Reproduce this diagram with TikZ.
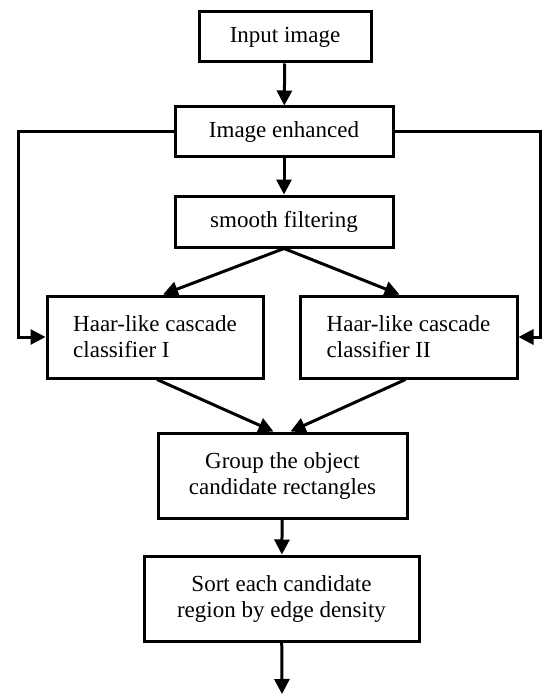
\documentclass[tikz,border=0pt]{standalone}
\usepackage{fontspec}
\setmainfont{Liberation Serif}
\usetikzlibrary{arrows.meta}

\begin{document}
\begin{tikzpicture}[x=1pt, y=-1pt,
		box/.style = {draw, line width=3pt, align=center, inner sep=0pt,
			font=\fontsize{23}{26}\selectfont},
		arr/.style = {line width=3pt, -{Triangle[length=15pt, width=15pt]}}]

		\useasboundingbox (0, 0) rectangle (542, 695);

		\node[box, minimum width=172, minimum height=50] (input) at (285, 37) {Input image};
		\node[box, minimum width=218, minimum height=50] (enh) at (284, 132) {Image enhanced};
		\node[box, minimum width=218, minimum height=51] (smooth) at (284, 221.5) {smooth filtering};
		\node[box, align=left, minimum width=216, minimum height=82] (haarI) at (155, 337) {Haar-like cascade\\classifier I};
		\node[box, align=left, minimum width=217, minimum height=82] (haarII) at (408.5, 337) {Haar-like cascade\\classifier II};
		\node[box, minimum width=249, minimum height=85] (group) at (282.5, 475.5) {Group the object\\candidate rectangles};
		\node[box, minimum width=275, minimum height=85] (sort) at (281.5, 598.5) {Sort each candidate\\region by edge density};
		\coordinate (out) at (282, 694);

		\draw[arr] (input) -- (enh);
		\draw[arr] (enh) -- (smooth);
		\draw[arr] (smooth.south) -- ([xshift=8]haarI.north);
		\draw[arr] (smooth.south) -- ([xshift=-9]haarII.north);
		\draw[arr] (enh.west) -- ++(-155, 0) |- (haarI.west);
		\draw[arr] (enh.east) -- ++(146, 0) |- (haarII.east);
		\draw[arr] ([xshift=2]haarI.south) -- ([xshift=-9]group.north);
		\draw[arr] ([xshift=-3]haarII.south) -- ([xshift=8]group.north);
		\draw[arr] (group) -- (sort);
		\draw[arr] (sort) -- (out);

	\end{tikzpicture}
\end{document}
